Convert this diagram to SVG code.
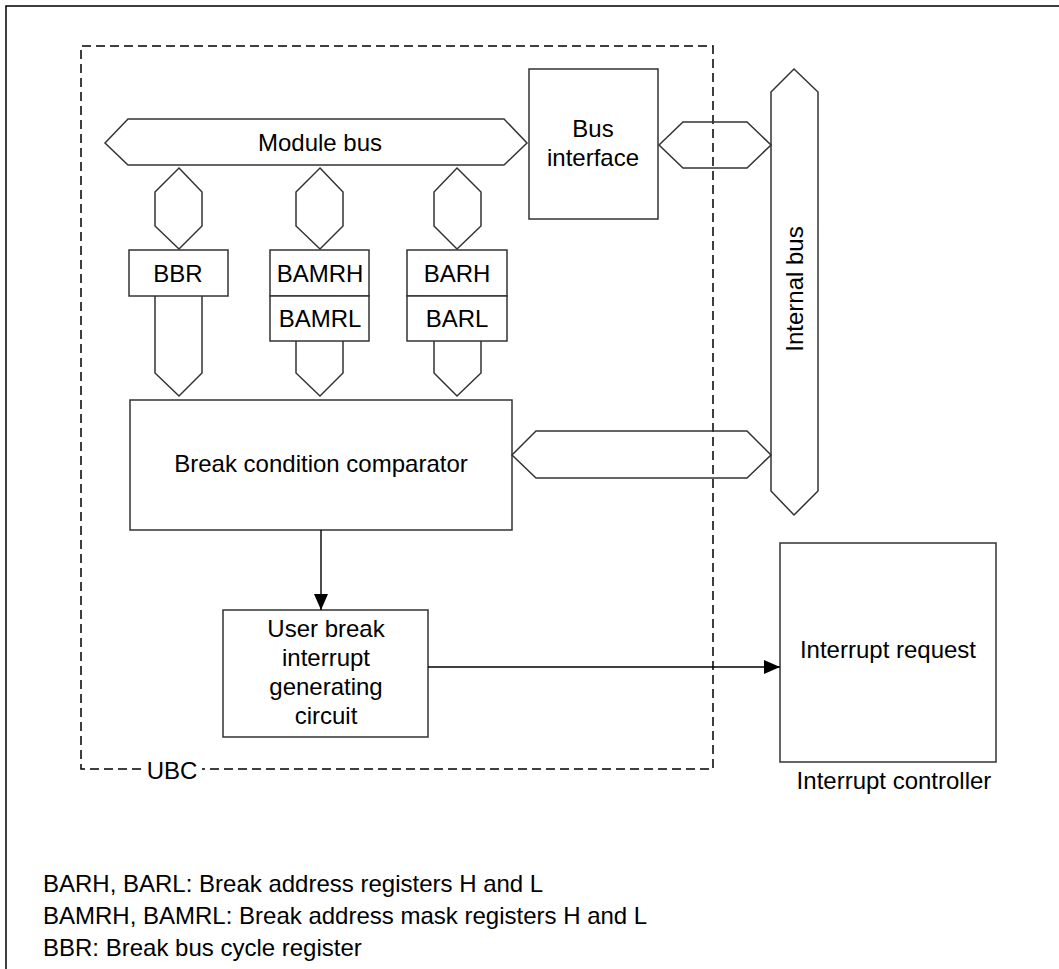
<svg xmlns="http://www.w3.org/2000/svg" width="1059" height="969" viewBox="0 0 1059 969">
<style>
text{font-family:"Liberation Sans",Arial,sans-serif;font-size:24px;fill:#000}
.c{text-anchor:middle}
.box{fill:#fff;stroke:#333;stroke-width:1.5}
.bus{fill:none;stroke:#333;stroke-width:1.5}
.dash{fill:none;stroke:#000;stroke-width:1.5;stroke-dasharray:9,5}
.wire{fill:none;stroke:#000;stroke-width:1.4}
</style>
<defs>
<marker id="ah" viewBox="0 0 16 14" refX="16" refY="7" markerWidth="16" markerHeight="14" markerUnits="userSpaceOnUse" orient="auto">
<path d="M0,0 L16,7 L0,14 Z" fill="#000"/>
</marker>
</defs>
<rect width="1059" height="969" fill="#fff"/>
<path d="M6,969 V6 H1059" fill="none" stroke="#000" stroke-width="1.5"/>

<g id="ubc">
<path class="dash" d="M141,769 H81 V46 H713 V769 H202"/>
<text x="172" y="779" class="c">UBC</text>
</g>

<g id="module-bus">
<polygon class="bus" points="105,143 128,119 504,119 527,143 504,165 128,165"/>
<text x="320" y="151" class="c">Module bus</text>
</g>

<g id="bus-interface">
<rect class="box" x="529" y="69" width="129" height="150"/>
<text x="593" y="137" class="c">Bus</text>
<text x="593" y="166" class="c">interface</text>
</g>

<g id="internal-bus">
<polygon class="bus" points="794,69 818,92 818,491 794,515 771,491 771,92"/>
<text transform="translate(803,289) rotate(-90)" class="c">Internal bus</text>
</g>

<g id="bbr">
<rect class="box" x="129" y="250" width="99" height="46"/>
<text x="178" y="282" class="c">BBR</text>
</g>

<g id="bamr">
<rect class="box" x="270" y="250" width="99" height="46"/>
<rect class="box" x="270" y="296" width="99" height="45"/>
<text x="320" y="282" class="c">BAMRH</text>
<text x="320" y="327" class="c">BAMRL</text>
</g>

<g id="bar">
<rect class="box" x="407" y="250" width="100" height="46"/>
<rect class="box" x="407" y="296" width="100" height="45"/>
<text x="457" y="282" class="c">BARH</text>
<text x="457" y="327" class="c">BARL</text>
</g>

<g id="comparator">
<rect class="box" x="130" y="400" width="382" height="130"/>
<text x="321" y="472" class="c">Break condition comparator</text>
</g>

<g id="user-break">
<rect class="box" x="223" y="610" width="205" height="127"/>
<text x="326" y="637" class="c">User break</text>
<text x="326" y="666" class="c">interrupt</text>
<text x="326" y="695" class="c">generating</text>
<text x="326" y="724" class="c">circuit</text>
</g>

<g id="interrupt-controller">
<rect class="box" x="780" y="543" width="216" height="219"/>
<text x="888" y="658" class="c">Interrupt request</text>
<text x="894" y="789" class="c">Interrupt controller</text>
</g>

<g id="connectors">
<polygon class="bus" points="659,145 683,122 747,122 771,145 747,168 683,168"/>
<polygon class="bus" points="512,455 536,431 747,431 771,455 747,478 536,478"/>
<polygon class="bus" points="179,168 202,192 202,226 179,249 155,226 155,192"/>
<polygon class="bus" points="320,168 343,192 343,226 320,249 296,226 296,192"/>
<polygon class="bus" points="457,168 481,192 481,226 457,249 434,226 434,192"/>
<polyline class="bus" points="155,296 155,373 179,396 202,373 202,296"/>
<polyline class="bus" points="296,341 296,373 320,396 343,373 343,341"/>
<polyline class="bus" points="434,341 434,373 457,396 481,373 481,341"/>
<line class="wire" x1="321" y1="530" x2="321" y2="610" marker-end="url(#ah)"/>
<line class="wire" x1="428" y1="667" x2="780" y2="667" marker-end="url(#ah)"/>
</g>

<g id="legend">
<text x="43" y="892">BARH, BARL: Break address registers H and L</text>
<text x="43" y="924">BAMRH, BAMRL: Break address mask registers H and L</text>
<text x="43" y="956">BBR: Break bus cycle register</text>
</g>
</svg>
